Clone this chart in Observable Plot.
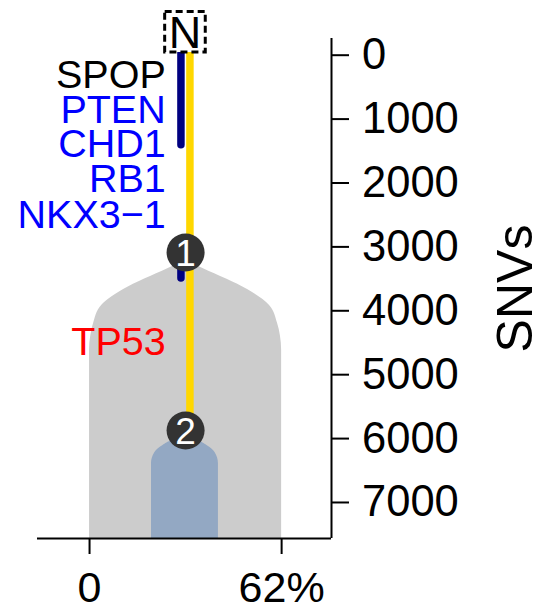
<!DOCTYPE html>
<html><head><meta charset="utf-8">
<script src="https://cdn.jsdelivr.net/npm/d3@7"></script>
<script src="https://cdn.jsdelivr.net/npm/@observablehq/plot@0.6"></script>
<style>body{margin:0;background:#fff;}</style>
</head><body><div id="chart"></div>
<script>
// Axis ticks
const yTicks = [0, 1000, 2000, 3000, 4000, 5000, 6000, 7000];
const xTicks = [0, 62];
const xTickLabels = ["0", "62%"];
const yLabel = "SNVs";

// Driver genes annotated along the trunk
const genes = ["SPOP", "PTEN", "CHD1", "RB1", "NKX3\u22121", "TP53"];
const geneColors = ["#000000", "#0000ff", "#0000ff", "#0000ff", "#0000ff", "#ff0000"];
const geneSNVs = [537, 1085, 1632, 2180, 2728, 4731];
const geneCCF = [24.6, 24.6, 24.6, 24.6, 24.6, 24.6];

// Clone 1 outline (gray): depth in SNVs, half-width in CCF %
const clone1Center = 31;
const clone1Depth = [3246, 3369, 3698, 3948, 4230, 4420, 4650, 7595];
const clone1Half = [0, 5.6, 20, 27.1, 29.7, 30.6, 31, 31];

// Clone 2 outline (blue)
const clone2Center = 30.8;
const clone2Depth = [6014, 6061, 6139, 6249, 6421, 7595];
const clone2Half = [0, 3.9, 7.1, 9.7, 10.8, 10.8];

// Branches
const branchCCF = [29.5, 29.5, 32.4];
const branchStart = [0, 3119, 0];
const branchEnd = [1440, 3525, 5905];
const branchColors = ["#000080", "#000080", "#ffd700"];

// Nodes
const nodeLabels = ["1", "2"];
const nodeCCF = [31, 31];
const nodeSNVs = [3119, 5905];

// Root
const rootLabel = "N";
const rootCCF = 30.8;
const rootSNVs = -336;

const xDomain = [-16.8, 78.1];
const yDomain = [-230, 7595];

const clone1 = clone1Depth.map((d, i) => ({d, lo: clone1Center - clone1Half[i], hi: clone1Center + clone1Half[i]}));
const clone2 = clone2Depth.map((d, i) => ({d, lo: clone2Center - clone2Half[i], hi: clone2Center + clone2Half[i]}));
const branches = branchCCF.map((x, i) => ({x, y1: branchStart[i], y2: branchEnd[i], c: branchColors[i]}));
const nodes = nodeLabels.map((t, i) => ({t, x: nodeCCF[i], y: nodeSNVs[i]}));
const geneData = genes.map((g, i) => ({g, c: geneColors[i], x: geneCCF[i], y: geneSNVs[i]}));

const chart = Plot.plot({
  width: 553,
  height: 607,
  marginLeft: 37,
  marginRight: 222,
  marginTop: 38,
  marginBottom: 69,
  style: {fontFamily: "'Liberation Sans', Arial, Helvetica, sans-serif", background: "#fff", color: "#000"},
  x: {domain: xDomain, range: [37, 331], axis: null},
  y: {domain: yDomain, range: [38, 538], axis: null},
  marks: [
    Plot.areaX(clone1, {y: "d", x1: "lo", x2: "hi", fill: "#cccccc", curve: "monotone-y"}),
    Plot.areaX(clone2, {y: "d", x1: "lo", x2: "hi", fill: "#93a8c3", curve: "monotone-y"}),
    Plot.ruleX(branches, {x: "x", y1: "y1", y2: "y2", stroke: "c", strokeWidth: 7.5, strokeLinecap: "round"}),
    Plot.dot(nodes, {x: "x", y: "y", r: 19, fill: "#333333", stroke: "none"}),
    Plot.text(nodes, {x: "x", y: "y", text: "t", fill: "#ffffff", fontSize: 37, lineAnchor: "middle", dy: 2}),
    Plot.dot([rootLabel], {x: () => rootCCF, y: () => rootSNVs, symbol: "square", r: 22.9, fill: "#ffffff", stroke: "#000", strokeWidth: 3, strokeDasharray: "7,4"}),
    Plot.text([rootLabel], {x: () => rootCCF, y: () => rootSNVs, text: d => d, fontSize: 45, lineAnchor: "middle", dy: 2, fill: "#000"}),
    Plot.text(geneData, {x: "x", y: "y", text: "g", fill: "c", fontSize: 39.5, textAnchor: "end", lineAnchor: "bottom"}),
    Plot.ruleX([xDomain[1]], {y1: yDomain[0], y2: yDomain[1], stroke: "#000", strokeWidth: 2}),
    Plot.ruleY([yDomain[1]], {x1: xDomain[0], x2: xDomain[1], stroke: "#000", strokeWidth: 2}),
    Plot.axisY(yTicks, {anchor: "right", tickSize: 17, tickPadding: 13.5, fontSize: 43.5, strokeWidth: 2, label: null, tickFormat: d => String(d), dy: 2}),
    Plot.axisX(xTicks, {anchor: "bottom", tickSize: 16, tickPadding: 17, fontSize: 43, strokeWidth: 2, label: null, tickFormat: d => xTickLabels[xTicks.indexOf(d)]}),
    Plot.text([yLabel], {frameAnchor: "right", rotate: -90, dx: 200, fontSize: 50, textAnchor: "middle", lineAnchor: "bottom", text: d => d, fill: "#000"})
  ]
});
document.getElementById("chart").appendChild(chart);
</script>
</body></html>
